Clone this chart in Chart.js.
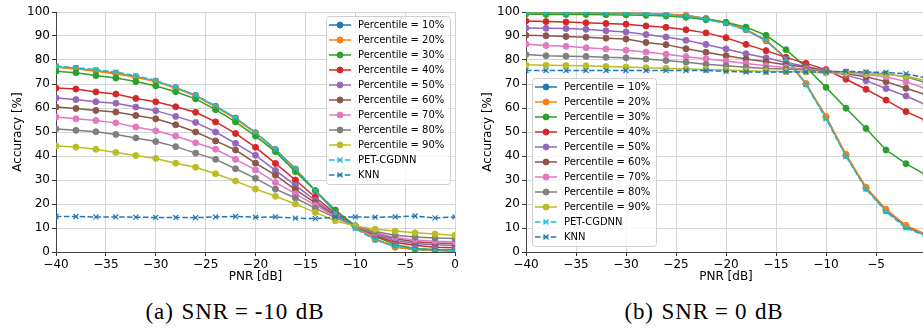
<!DOCTYPE html>
<html lang="en">
<head>
    <meta charset="UTF-8">
    <title>Accuracy vs PNR</title>
    <script src="https://cdn.jsdelivr.net/npm/chart.js"></script>
    <style>
        html, body { margin: 0; padding: 0; background: #fff; overflow: hidden; width: 923px; height: 331px; }
        .panel { position: absolute; top: 0; }
        .caption {
            position: absolute; top: 299px; width: 300px; text-align: center;
            font-family: "Liberation Serif", "DejaVu Serif", serif; font-size: 23px; line-height: 26px; color: #000;
            letter-spacing: 0.9px; word-spacing: 1px;
        }
        .caption .eq { margin: 0 6px; }
    </style>
</head>
<body>
    <canvas id="chartA" class="panel" width="462" height="292" style="left:0px"></canvas>
    <canvas id="chartB" class="panel" width="470" height="292" style="left:470px"></canvas>
    <div class="caption" style="left:85px">(a) SNR<span class="eq">=</span>-10 dB</div>
    <div class="caption" style="left:554px">(b) SNR<span class="eq">=</span>0 dB</div>
    <script>
        const pnr = [-40, -38, -36, -34, -32, -30, -28, -26, -24, -22, -20, -18, -16, -14, -12, -10, -8, -6, -4, -2, 0];
        const seriesLabels = ['Percentile = 10%', 'Percentile = 20%', 'Percentile = 30%', 'Percentile = 40%',
            'Percentile = 50%', 'Percentile = 60%', 'Percentile = 70%', 'Percentile = 80%', 'Percentile = 90%',
            'PET-CGDNN', 'KNN'];
        const xTicks = [-40, -35, -30, -25, -20, -15, -10, -5, 0];
        const yTicks = [0, 10, 20, 30, 40, 50, 60, 70, 80, 90, 100];

        // SNR = -10 dB
        const a_p10 = [77.2, 76.5, 75.5, 74.5, 73.0, 71.2, 68.5, 65.2, 60.7, 55.8, 49.7, 42.7, 34.6, 25.5, 16.8, 10.4, 5.3, 2.2, 1.0, 0.6, 0.4];
        const a_p20 = [77.0, 76.3, 75.3, 74.3, 72.8, 71.0, 68.3, 65.0, 60.5, 55.5, 49.5, 42.5, 34.5, 25.5, 17.0, 10.5, 5.5, 2.0, 1.0, 0.7, 0.5];
        const a_p30 = [75.3, 74.7, 73.5, 72.5, 71.0, 69.2, 66.8, 63.8, 59.3, 54.2, 48.3, 41.8, 33.5, 25.5, 17.5, 11.0, 6.5, 3.0, 1.5, 1.0, 0.8];
        const a_p40 = [68.3, 67.9, 66.7, 65.8, 64.0, 62.6, 60.5, 58.2, 54.2, 49.4, 43.6, 36.9, 30.0, 22.8, 16.0, 10.8, 6.8, 4.0, 2.8, 2.0, 1.8];
        const a_p50 = [64.2, 63.5, 62.6, 62.0, 60.4, 58.9, 56.5, 54.0, 50.0, 45.3, 40.3, 34.0, 27.8, 21.5, 15.5, 10.8, 7.2, 4.8, 3.5, 3.0, 2.7];
        const a_p60 = [60.4, 59.8, 59.0, 58.3, 56.9, 55.5, 53.0, 50.0, 46.3, 42.5, 37.0, 32.0, 26.0, 20.5, 15.0, 10.8, 7.8, 5.5, 4.3, 3.8, 3.5];
        const a_p70 = [56.2, 55.5, 54.8, 53.8, 52.1, 50.5, 48.3, 45.5, 42.8, 38.6, 34.2, 29.0, 24.2, 19.5, 14.7, 10.8, 8.0, 6.0, 5.0, 4.5, 4.3];
        const a_p80 = [51.3, 50.7, 50.1, 49.0, 47.5, 46.0, 43.9, 41.2, 38.6, 34.7, 30.7, 26.2, 22.5, 18.2, 14.3, 10.8, 8.5, 7.0, 6.2, 5.8, 5.6];
        const a_p90 = [44.2, 43.7, 42.8, 41.5, 40.2, 39.0, 37.0, 35.3, 32.6, 29.6, 26.2, 23.2, 20.0, 16.5, 13.0, 10.8, 9.5, 8.7, 8.0, 7.5, 7.0];
        const a_pet = [77.5, 76.8, 76.0, 75.0, 73.5, 71.5, 68.5, 65.3, 60.8, 56.0, 49.8, 42.8, 34.8, 25.5, 16.5, 9.8, 5.0, 2.5, 1.3, 0.8, 0.5];
        const a_knn = [14.8, 14.8, 14.6, 14.6, 14.5, 14.4, 14.4, 14.3, 14.6, 14.8, 14.5, 14.6, 14.1, 13.9, 14.5, 14.6, 14.5, 14.6, 15.0, 14.2, 14.6];

        // SNR = 0 dB
        const b_p10 = [99.6, 99.6, 99.6, 99.6, 99.5, 99.5, 99.4, 99.1, 98.6, 97.3, 95.5, 92.6, 88.0, 80.6, 70.0, 56.2, 40.3, 26.6, 17.3, 10.6, 7.0];
        const b_p20 = [99.6, 99.6, 99.6, 99.6, 99.5, 99.5, 99.4, 99.1, 98.6, 97.2, 95.6, 92.8, 88.2, 80.8, 70.2, 56.5, 40.7, 27.0, 17.8, 11.1, 7.4];
        const b_p30 = [99.2, 99.0, 99.0, 99.0, 98.9, 98.8, 98.6, 98.3, 97.8, 96.8, 95.7, 93.7, 90.3, 84.3, 77.0, 68.6, 59.9, 51.5, 42.5, 36.8, 32.0];
        const b_p40 = [96.3, 96.0, 95.8, 95.5, 95.2, 94.9, 94.2, 93.6, 92.6, 91.3, 89.3, 86.5, 83.9, 81.1, 78.6, 76.0, 72.0, 67.8, 63.3, 58.5, 54.8];
        const b_p50 = [93.3, 93.2, 93.1, 92.8, 92.2, 91.7, 90.6, 89.6, 88.2, 86.5, 84.6, 82.6, 80.9, 79.0, 77.3, 75.6, 73.7, 71.4, 68.1, 65.0, 61.3];
        const b_p60 = [90.3, 90.1, 89.8, 89.5, 89.1, 88.7, 87.3, 86.4, 84.7, 83.2, 81.8, 80.4, 79.3, 78.0, 77.0, 75.6, 74.3, 73.0, 71.0, 68.2, 65.5];
        const b_p70 = [86.6, 86.0, 85.7, 85.1, 84.6, 84.1, 83.3, 82.4, 81.4, 80.5, 79.6, 78.5, 77.6, 76.9, 76.3, 75.5, 74.7, 74.0, 73.0, 71.0, 68.0];
        const b_p80 = [82.3, 81.8, 81.6, 81.5, 81.1, 80.9, 80.4, 79.8, 79.1, 78.2, 77.6, 77.0, 76.5, 76.2, 75.8, 75.3, 75.0, 74.6, 74.2, 73.0, 70.5];
        const b_p90 = [78.0, 77.8, 77.7, 77.6, 77.3, 77.1, 76.8, 76.6, 76.3, 76.0, 75.8, 75.5, 75.3, 75.2, 75.0, 74.6, 74.5, 74.4, 74.0, 73.2, 71.5];
        const b_pet = [99.5, 99.5, 99.5, 99.5, 99.4, 99.3, 99.2, 98.8, 98.3, 97.0, 95.2, 92.5, 88.4, 80.6, 69.8, 55.5, 39.8, 26.2, 16.8, 10.0, 6.6];
        const b_knn = [75.6, 75.6, 75.6, 75.6, 75.6, 75.6, 75.6, 75.6, 75.6, 75.6, 75.3, 75.0, 74.9, 75.0, 75.0, 75.0, 75.3, 75.0, 74.8, 74.3, 72.5];

        const colors = ['#1f77b4', '#ff7f0e', '#2ca02c', '#d62728', '#9467bd', '#8c564b', '#e377c2', '#7f7f7f', '#bcbd22', '#17becf', '#1f77b4'];

        // legend drawn inside the plot area, like matplotlib
        const insideLegend = {
            id: 'insideLegend',
            afterDraw(chart, args, opts) {
                const ctx = chart.ctx;
                const x0 = opts.x, y0 = opts.y, rowH = 15, w = 124, h = 168;
                ctx.save();
                ctx.fillStyle = 'rgba(255,255,255,0.8)';
                ctx.strokeStyle = '#d0d0d0';
                ctx.lineWidth = 1;
                ctx.beginPath();
                ctx.roundRect(x0 + 0.5, y0 + 0.5, w, h, 3);
                ctx.fill();
                ctx.stroke();
                chart.data.datasets.forEach((ds, i) => {
                    const cy = y0 + 9 + i * rowH;
                    ctx.strokeStyle = ds.borderColor;
                    ctx.lineWidth = ds.borderWidth;
                    ctx.setLineDash(ds.borderDash || []);
                    ctx.beginPath();
                    ctx.moveTo(x0 + 3, cy);
                    ctx.lineTo(x0 + 25, cy);
                    ctx.stroke();
                    ctx.setLineDash([]);
                    ctx.fillStyle = ds.pointBackgroundColor;
                    ctx.strokeStyle = ds.pointBorderColor;
                    ctx.lineWidth = ds.pointBorderWidth;
                    Chart.helpers.drawPoint(ctx, { pointStyle: ds.pointStyle, radius: ds.pointRadius, borderWidth: ds.pointBorderWidth, rotation: 0 }, x0 + 14, cy);
                    ctx.fillStyle = '#000';
                    ctx.font = '10px "DejaVu Sans"';
                    ctx.textBaseline = 'middle';
                    ctx.textAlign = 'left';
                    ctx.fillText(ds.label, x0 + 32, cy);
                });
                ctx.restore();
            }
        };

        function buildDatasets(series) {
            return series.map((vals, i) => {
                const dashed = i >= 9;
                return {
                    label: seriesLabels[i],
                    data: pnr.map((x, k) => ({ x: x, y: vals[k] })),
                    borderColor: colors[i],
                    backgroundColor: colors[i],
                    borderWidth: 1.5,
                    borderDash: dashed ? [5.5, 2.4] : [],
                    pointStyle: dashed ? 'crossRot' : 'circle',
                    pointRadius: dashed ? 3.5 : 3,
                    pointBackgroundColor: colors[i],
                    pointBorderColor: colors[i],
                    pointBorderWidth: dashed ? 1.2 : 1,
                    tension: 0,
                    order: series.length - i
                };
            });
        }

        function makeChart(id, series, legendX, legendY) {
            const ctx = document.getElementById(id).getContext('2d');
            return new Chart(ctx, {
                type: 'line',
                data: { datasets: buildDatasets(series) },
                plugins: [insideLegend],
                options: {
                    responsive: false,
                    animation: false,
                    devicePixelRatio: 1,
                    layout: { padding: { top: 12, right: id === 'chartA' ? 7 : 14, left: 0, bottom: 0 } },
                    plugins: {
                        legend: { display: false },
                        tooltip: { enabled: false },
                        insideLegend: { x: legendX, y: legendY }
                    },
                    scales: {
                        x: {
                            type: 'linear',
                            min: -40,
                            max: 0,
                            afterFit: s => { s.height = 40; },
                            afterBuildTicks: s => { s.ticks = xTicks.map(v => ({ value: v })); },
                            ticks: {
                                color: '#000',
                                padding: 2,
                                maxRotation: 0,
                                font: { family: 'DejaVu Sans', size: 12 },
                                callback: v => String(v).replace('-', '\u2212')
                            },
                            grid: { color: '#d4d4d4', tickColor: '#333', tickLength: 4 },
                            border: { color: '#444', width: 1 },
                            title: {
                                display: true,
                                text: 'PNR [dB]',
                                color: '#000',
                                font: { family: 'DejaVu Sans', size: 12 },
                                padding: { top: 0, bottom: 8 }
                            }
                        },
                        y: {
                            min: 0,
                            max: 100,
                            afterFit: s => { s.width = 56; },
                            afterBuildTicks: s => { s.ticks = yTicks.map(v => ({ value: v })); },
                            ticks: {
                                color: '#000',
                                padding: 2,
                                font: { family: 'DejaVu Sans', size: 12 }
                            },
                            grid: { color: '#d4d4d4', tickColor: '#333', tickLength: 4 },
                            border: { color: '#444', width: 1 },
                            title: {
                                display: true,
                                text: 'Accuracy [%]',
                                color: '#000',
                                font: { family: 'DejaVu Sans', size: 12 },
                                padding: { top: 11, bottom: 0 }
                            }
                        }
                    }
                }
            });
        }

        makeChart('chartA', [a_p10, a_p20, a_p30, a_p40, a_p50, a_p60, a_p70, a_p80, a_p90, a_pet, a_knn], 326, 16);
        makeChart('chartB', [b_p10, b_p20, b_p30, b_p40, b_p50, b_p60, b_p70, b_p80, b_p90, b_pet, b_knn], 62, 78);
    </script>
</body>
</html>
